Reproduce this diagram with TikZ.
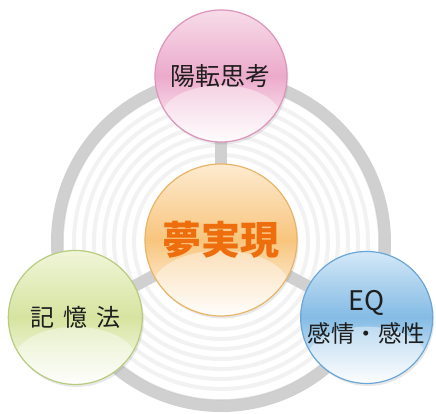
\documentclass[tikz,border=0pt]{standalone}
\usepackage{fontspec}
\usepackage{xcolor}
\usetikzlibrary{shadows,backgrounds}

\newfontfamily\jpfont{Noto Sans CJK JP}

\definecolor{ringgray}{HTML}{D0D0D0}
\definecolor{groovegray}{HTML}{F2F2F2}
\definecolor{textgray}{HTML}{1E1E1E}
\definecolor{pinkedge}{HTML}{DE95BB}
\definecolor{pinktop}{HTML}{F7DCE9}
\definecolor{pinkmid}{HTML}{ECAACB}
\definecolor{hubedge}{HTML}{E8B466}
\definecolor{hubtop}{HTML}{FDEBD0}
\definecolor{hubmid}{HTML}{F8C57D}
\definecolor{hubtext}{HTML}{EE6E0E}
\definecolor{greenedge}{HTML}{B7CC7E}
\definecolor{greentop}{HTML}{F0F5D8}
\definecolor{greenmid}{HTML}{D6E4A0}
\definecolor{blueedge}{HTML}{6AA6D8}
\definecolor{bluetop}{HTML}{D3E8F7}
\definecolor{bluemid}{HTML}{84BBE5}

\begin{document}
\begin{tikzpicture}[x=1pt,y=1pt,
  bubble/.style={circle, inner sep=0pt, minimum size=2*#1, line width=1.2pt,
    drop shadow={opacity=0.18, shadow xshift=1.5pt, shadow yshift=-2.5pt},
    path picture={\fill[white,opacity=0.4] ([yshift=-0.62*#1]path picture bounding box.center)
      ellipse [x radius=0.9*#1, y radius=0.48*#1];}},
  label/.style={font=\jpfont\fontsize{23.5}{32}\selectfont, text=textgray, align=center},
  groove/.style={draw=groovegray, line width=4pt},
  ringband/.style={draw=ringgray, line width=12pt},
  spoke/.style={draw=ringgray, line width=12pt},
]
  \useasboundingbox (-221,-173) rectangle (215,240);

  % --- Centre: the goal ---
  \node[bubble=76, draw=hubedge, top color=hubtop, bottom color=white!90!hubtop,
        middle color=hubmid, text=hubtext,
        font=\jpfont\bfseries\fontsize{39}{40}\selectfont] (yume) at (0,0) {夢実現};

  % --- Three supporting bubbles sitting on the ring ---
  \node[bubble=66, draw=pinkedge, top color=pinktop, bottom color=white!92!pinktop,
        middle color=pinkmid, label, font=\jpfont\fontsize{25}{30}\selectfont] (yoten) at (90:164) {陽転思考};
  \node[bubble=67, draw=greenedge, top color=greentop, bottom color=white!92!greentop,
        middle color=greenmid, label, font=\jpfont\fontsize{24}{30}\selectfont] (kioku) at (208:165)
    {記\hspace{0.38em}憶\hspace{0.38em}法};
  \node[bubble=66, draw=blueedge, top color=bluetop, bottom color=white!92!bluetop,
        middle color=bluemid, label] (eq) at (332:165)
    {{\fontsize{27}{32}\selectfont EQ}\\感情・感性};

  % --- Ring, grooves and spokes behind everything ---
  \begin{scope}[on background layer]
    \fill[white] (-221,-173) rectangle (215,240);
    \foreach \r in {87,97,...,150} {
      \draw[groove] (0,-2) circle (\r);
    }
    \draw[gray!30,line width=3pt,opacity=0.3] (1,-4) circle (166);
    \draw[ringband] (0,-2) circle (164);
    \draw[gray!50,line width=1.2pt,opacity=0.45] (0,-2) circle (157.8);
    \foreach \n in {yoten,kioku,eq} {
      \draw[spoke] (yume.center) -- (\n.center);
    }
  \end{scope}
\end{tikzpicture}
\end{document}
